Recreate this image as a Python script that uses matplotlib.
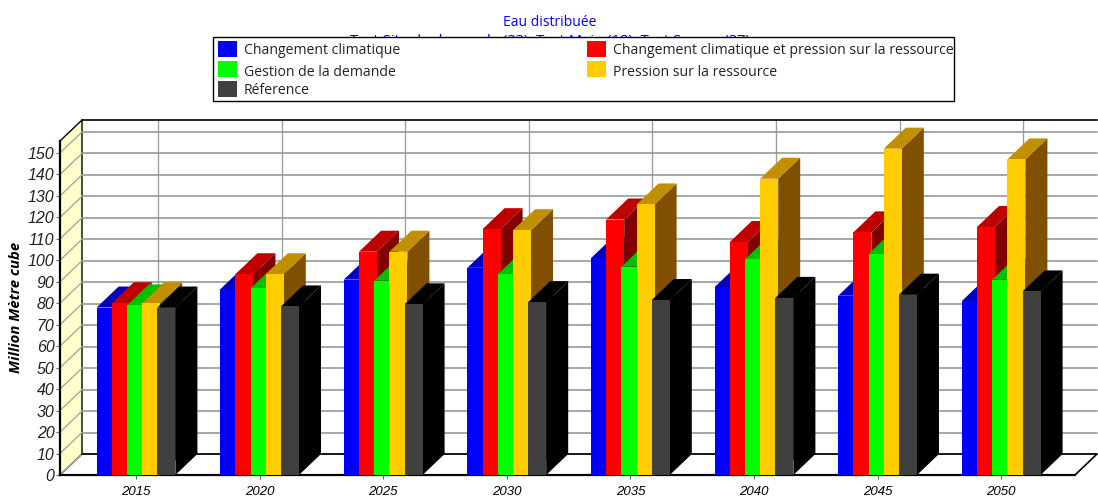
import matplotlib
matplotlib.use("Agg")
import matplotlib.pyplot as plt
from matplotlib.patches import Polygon, Rectangle

years = ["2015", "2020", "2025", "2030", "2035", "2040", "2045", "2050"]
changement = [78, 86.5, 91, 96.5, 101, 87.5, 83.5, 81]
changement_pression = [80, 93.5, 104, 114.5, 119, 108.5, 113, 115.5]
gestion = [79, 87, 90.5, 93.5, 97, 100.5, 103, 91]
pression = [80, 93.5, 104, 114, 126, 138, 152, 147]
reference = [78, 78.5, 79.5, 80.5, 81.5, 82.5, 84, 85.5]

series = [
    ("Changement climatique", changement, "#0000ff", "#0000c0", "#000080"),
    ("Changement climatique et pression sur la ressource", changement_pression, "#ff0000", "#c00000", "#800000"),
    ("Gestion de la demande", gestion, "#00ff00", "#00c000", "#008000"),
    ("Pression sur la ressource", pression, "#ffcc00", "#c09000", "#805000"),
    ("Réference", reference, "#404040", "#000000", "#000000"),
]

W, H = 1098, 498
PX_X = 123.6     # pixels per category
PX_Y = 2.147     # pixels per unit
dx = 22 / PX_X   # depth of the box in data units
dy = 21 / PX_Y
bar_w = 18 / PX_X
bar_step = 15.2 / PX_X

fig = plt.figure(figsize=(W / 100, H / 100), dpi=100)
ax = fig.add_axes([60 / W, 1 - 475 / H, (1075 - 60) / W, (475 - 141) / H])
ax.set_xlim(-76 / PX_X, -76 / PX_X + 1015 / PX_X)
ax.set_ylim(0, 334 / PX_Y)
ax.patch.set_visible(False)

x0, x1 = ax.get_xlim()
y1 = ax.get_ylim()[1]

# side wall and back wall
ax.add_patch(Polygon([(x0, 0), (x0 + dx, dy), (x0 + dx, y1 + dy), (x0, y1)],
                     fc="#ffffcc", ec="black", lw=1, clip_on=False, zorder=1))
for v in range(0, 160, 10):
    ax.plot([x0, x0 + dx], [v, v + dy], color="#a8a8a8", lw=1, clip_on=False, zorder=1.2)
    ax.plot([x0 + dx, x1 + dx], [v + dy, v + dy], color="#909090", lw=1.1, clip_on=False, zorder=1.2)
for i in range(len(years)):
    ax.plot([i + dx, i + dx], [dy, y1 + dy], color="#a0a0a0", lw=1, clip_on=False, zorder=1.1)
ax.plot([x0 + dx, x1 + dx], [y1 + dy, y1 + dy], color="black", lw=1.2, clip_on=False, zorder=1.3)
ax.plot([x0 + dx, x1 + dx, x1], [dy, dy, 0], color="black", lw=1.2, clip_on=False, zorder=1.3)

# bars, left to right so the later ones cover the earlier ones
for i in range(len(years)):
    for j, (name, vals, front, top, side) in enumerate(series):
        left = i + (j - 2) * bar_step - bar_w / 2
        right = left + bar_w
        v = vals[i]
        ax.add_patch(Polygon([(right, 0), (right + dx, dy), (right + dx, v + dy), (right, v)],
                             fc=side, ec="none", clip_on=False, zorder=3))
        ax.add_patch(Polygon([(left, v), (left + dx, v + dy), (right + dx, v + dy), (right, v)],
                             fc=top, ec="none", clip_on=False, zorder=3))
        ax.add_patch(Rectangle((left, 0), bar_w, v, fc=front, ec="none", clip_on=False, zorder=3))

for s in ["top", "right"]:
    ax.spines[s].set_visible(False)
ax.spines["left"].set_linewidth(1.6)
ax.spines["bottom"].set_linewidth(1.6)

ax.set_xticks(range(len(years)))
ax.set_xticklabels(years, fontfamily="Liberation Sans", fontstyle="italic", fontsize=9.5)
ax.set_yticks(range(0, 160, 10))
ax.set_yticklabels([str(v) for v in range(0, 160, 10)], fontfamily="Liberation Sans",
                   fontstyle="italic", fontsize=11.5, color="#222222")
ax.tick_params(axis="x", length=3, pad=5, color="#666666")
ax.tick_params(axis="y", length=3, pad=1, color="#666666")

fig.text(16 / W, 1 - 307 / H, "Million Mètre cube", rotation=90, ha="center", va="center",
         fontfamily="Open Sans", fontweight="bold", fontstyle="italic", fontsize=10.7)

# titles, the second line runs under the legend box
fig.text(550 / W, 1 - 22 / H, "Eau distribuée", color="#0000ff", ha="center", va="center",
         fontfamily="Open Sans", fontsize=10)
fig.text(550 / W, 1 - 41 / H, "Test Site de demande (33), Test Main (18), Test Source (37)",
         color="#0000ff", ha="center", va="center", fontfamily="Open Sans", fontsize=10.6)

# legend
fig.add_artist(Rectangle((213 / W, 1 - 101 / H), 741 / W, 64 / H, transform=fig.transFigure,
                         fc="white", ec="black", lw=1, zorder=5))
legend_pos = [(218, 41, 51), (587, 41, 51), (218, 61, 72), (587, 61, 72), (218, 81, 90)]
for (name, vals, front, top, side), (px, py, ty) in zip(series, legend_pos):
    fig.add_artist(Rectangle((px / W, 1 - (py + 16) / H), 19 / W, 16 / H, transform=fig.transFigure,
                             fc=front, ec="none", zorder=6))
    fig.text((px + 26) / W, 1 - ty / H, name, va="center", ha="left", color="#222222",
             fontfamily="Open Sans", fontsize=10.1, zorder=6)

fig.savefig("out.png", dpi=100)
